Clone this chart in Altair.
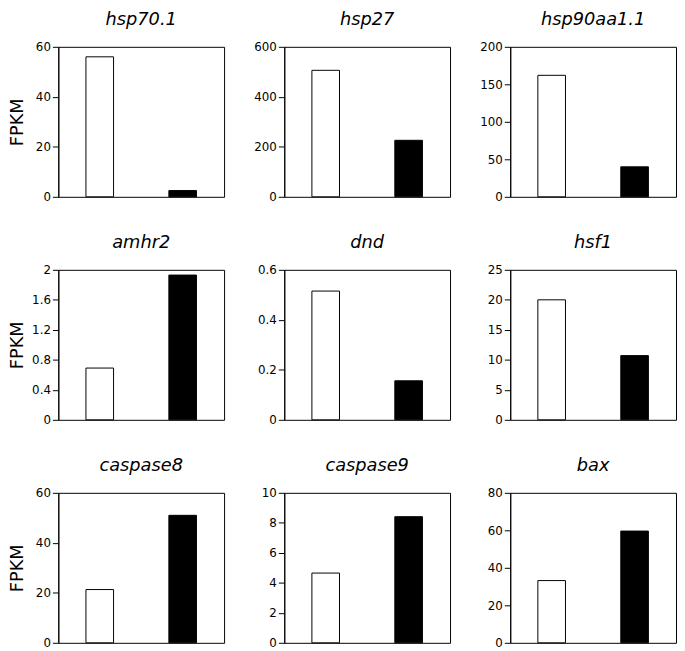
import altair as alt
import pandas as pd

genes = ["hsp70.1", "hsp27", "hsp90aa1.1", "amhr2", "dnd", "hsf1", "caspase8", "caspase9", "bax"]
groups = ["white", "black"]
values_white = [56.0, 506.0, 162.0, 0.69, 0.515, 20.0, 21.3, 4.65, 33.2]
values_black = [2.5, 226.0, 40.0, 1.93, 0.156, 10.7, 51.0, 8.41, 59.6]
y_ticks = [
    [0, 20, 40, 60],
    [0, 200, 400, 600],
    [0, 50, 100, 150, 200],
    [0, 0.4, 0.8, 1.2, 1.6, 2],
    [0, 0.2, 0.4, 0.6],
    [0, 5, 10, 15, 20, 25],
    [0, 20, 40, 60],
    [0, 2, 4, 6, 8, 10],
    [0, 20, 40, 60, 80],
]

rows = []
for g, w, b in zip(genes, values_white, values_black):
    rows.append({"gene": g, "group": "white", "value": w})
    rows.append({"gene": g, "group": "black", "value": b})
df = pd.DataFrame(rows)

FONT = "DejaVu Sans"

panels = []
for i, g in enumerate(genes):
    ticks = y_ticks[i]
    first_col = (i % 3 == 0)
    if first_col:
        yaxis = alt.Axis(values=ticks, labelExpr="'' + datum.value", title="FPKM",
                         titleFontSize=18, titleFontWeight="normal", titleFont=FONT,
                         titleColor="black", titlePadding=8, minExtent=24, maxExtent=24)
    else:
        yaxis = alt.Axis(values=ticks, labelExpr="'' + datum.value", title=None)
    ch = (
        alt.Chart(df)
        .transform_filter(alt.datum.gene == g)
        .mark_bar(stroke="black", strokeWidth=1)
        .encode(
            x=alt.X("group:N", sort=groups,
                    scale=alt.Scale(domain=groups, paddingInner=0.667, paddingOuter=0.333),
                    axis=None),
            y=alt.Y("value:Q", scale=alt.Scale(domain=[0, ticks[-1]], nice=False, zero=True),
                    axis=yaxis),
            fill=alt.Fill("group:N", scale=alt.Scale(domain=groups, range=["white", "black"]),
                          legend=None),
        )
        .properties(
            width=168, height=152,
            title=alt.TitleParams(g, fontStyle="italic", fontSize=18, fontWeight="normal",
                                  font=FONT, color="black", anchor="middle", offset=12),
        )
    )
    panels.append(ch)

chart = (
    alt.concat(*panels, columns=3, spacing={"row": 30, "column": 28})
    .properties(padding={"top": -2, "left": 0, "right": 0, "bottom": 0})
    .configure_view(stroke="black", strokeWidth=1)
    .configure_axis(
        labelFont=FONT, labelFontSize=12, labelColor="black",
        tickColor="black", domainColor="black", tickSize=6, labelPadding=2,
        grid=False, domainWidth=1, tickWidth=1,
    )
)

chart.save("out.html", embed_options={"renderer": "svg", "actions": False})
